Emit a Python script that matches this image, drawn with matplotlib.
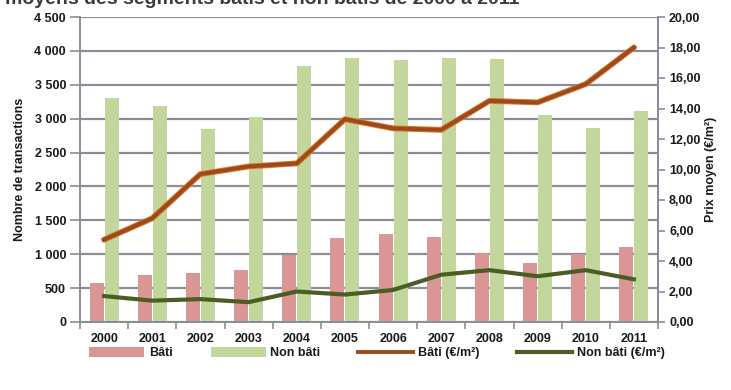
import matplotlib
matplotlib.use("Agg")
import matplotlib.pyplot as plt
import numpy as np
from matplotlib.ticker import FuncFormatter, MultipleLocator

years = ["2000", "2001", "2002", "2003", "2004", "2005",
         "2006", "2007", "2008", "2009", "2010", "2011"]
transactions_bati = [580, 690, 730, 760, 990, 1240, 1300, 1250, 1020, 870, 1000, 1100]
transactions_non_bati = [3310, 3190, 2850, 3020, 3770, 3890, 3870, 3890, 3880, 3050, 2860, 3110]
prix_bati = [5.4, 6.8, 9.7, 10.2, 10.4, 13.3, 12.7, 12.6, 14.5, 14.4, 15.6, 18.0]
prix_non_bati = [1.7, 1.4, 1.5, 1.3, 2.0, 1.8, 2.1, 3.1, 3.4, 3.0, 3.4, 2.8]

title = "moyens des segments bâtis et non bâtis de 2000 à 2011"

plt.rcParams["font.family"] = ["Liberation Sans Narrow", "Liberation Sans", "DejaVu Sans"]
plt.rcParams["font.weight"] = "bold"
plt.rcParams["axes.labelweight"] = "bold"

PINK = "#d99694"
GREEN = "#c3d69b"
BROWN = "#9c4a1c"
DKGREEN = "#4a5d23"
GRID = "#8a8c9a"
TXT = "#1a1a1a"

fig = plt.figure(figsize=(7.31, 3.90), dpi=100)
ax = fig.add_axes([80 / 731, 1 - 322 / 390, 578 / 731, 305 / 390])
ax2 = ax.twinx()

x = np.arange(len(years))
w = 0.29
ax.bar(x - w / 2 - 0.01, transactions_bati, width=w, color=PINK, zorder=2, label="Bâti")
ax.bar(x + w / 2 + 0.01, transactions_non_bati, width=w, color=GREEN, zorder=2, label="Non bâti")

ax.set_xlim(-0.5, len(years) - 0.5)
ax.set_ylim(0, 4500)
ax.yaxis.set_major_locator(MultipleLocator(500))
ax.yaxis.set_major_formatter(FuncFormatter(lambda v, p: f"{int(v):,}".replace(",", " ")))
ax.grid(axis="y", color=GRID, linewidth=1.6, zorder=0)
ax.set_axisbelow(True)

ax.set_xticks(x)
ax.set_xticklabels(years)
ax.set_xticks(np.arange(-0.5, len(years)), minor=True)
ax.tick_params(axis="x", which="major", length=0, pad=8, labelsize=9, colors=TXT)
ax.tick_params(axis="x", which="minor", length=5, color=GRID, width=1.2)
ax.tick_params(axis="y", length=7, color=GRID, width=1.2, labelsize=9, colors=TXT, pad=3)

ax.spines["top"].set_visible(False)
ax2.spines["top"].set_visible(False)
for s in ["left", "bottom", "right"]:
    ax.spines[s].set_color(GRID)
    ax.spines[s].set_linewidth(1.4)
ax2.spines["right"].set_color(GRID)
ax2.spines["right"].set_linewidth(1.4)
ax2.spines["left"].set_visible(False)
ax2.spines["bottom"].set_visible(False)

ax.set_ylabel("Nombre de transactions", fontsize=9, color=TXT, labelpad=6)

ax2.plot(x, prix_bati, color="#d9782a", linewidth=4.2, zorder=3, solid_capstyle="round")
l1, = ax2.plot(x, prix_bati, color=BROWN, linewidth=2.8, zorder=4, label="Bâti (€/m²)")
l2, = ax2.plot(x, prix_non_bati, color=DKGREEN, linewidth=3.0, zorder=4, label="Non bâti (€/m²)")
ax2.set_ylim(0, 20)
ax2.yaxis.set_major_locator(MultipleLocator(2))
ax2.yaxis.set_major_formatter(FuncFormatter(lambda v, p: f"{v:.2f}".replace(".", ",")))
ax2.tick_params(axis="y", length=5, color=GRID, width=1.2, labelsize=9, colors=TXT, pad=3)
ax2.set_ylabel("Prix moyen (€/m²)", fontsize=9, color=TXT, labelpad=3)

handles, labels = ax.get_legend_handles_labels()
handles += [l1, l2]
labels += [l1.get_label(), l2.get_label()]
fig.legend(handles, labels, loc="center left", bbox_to_anchor=(78 / 731, 1 - 353 / 390),
           ncol=4, frameon=False, fontsize=9, handlelength=4.4, handleheight=0.9,
           columnspacing=3.0, handletextpad=0.4, labelcolor=TXT)

fig.text(5 / 731, 1 - 4 / 390, title, fontsize=14, fontweight="bold",
         color="#3a3a3a", va="baseline", ha="left",
         family=["Liberation Sans", "DejaVu Sans"])

fig.savefig("out.png", dpi=100)
